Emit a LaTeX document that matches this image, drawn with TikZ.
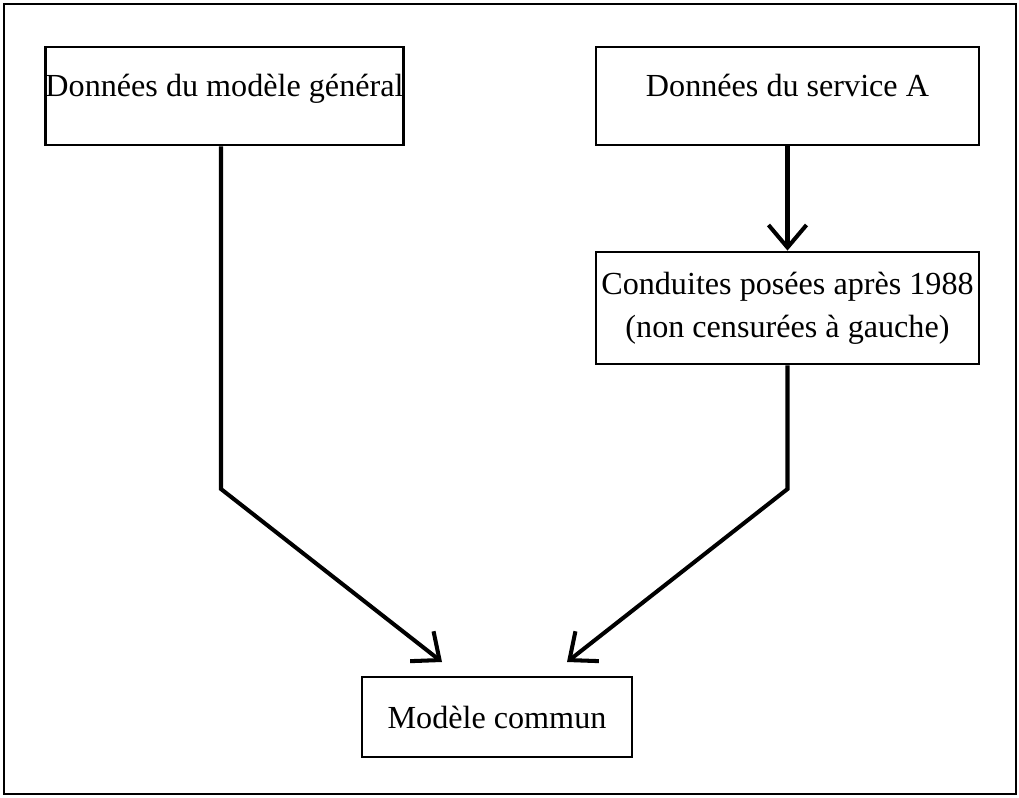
\documentclass[tikz,border=0pt]{standalone}
\usepackage{fontspec}
\setmainfont{Liberation Serif}
\usetikzlibrary{arrows.meta,calc,positioning}

\begin{document}
\begin{tikzpicture}[x=0.02cm,y=-0.02cm,
    box/.style={draw,line width=1.6pt,inner sep=0pt,align=center,font=\fontsize{18.3}{24.5}\selectfont},
    flow/.style={line width=2.3pt,-{Straight Barb[length=0.45cm,width=0.76cm]}}]
  \useasboundingbox (0,0) rectangle (1019,798);
  \draw[line width=1.6pt] (4,4) rectangle (1016,794);
  % sources
  \node[box,minimum width=7.14cm,minimum height=1.96cm,text height=0.3cm,text depth=0.3cm] (gen) at (224.5,96) {Données du modèle général};
  \node[box,minimum width=7.66cm,minimum height=1.96cm,text height=0.3cm,text depth=0.3cm] (serv) at (787.5,96) {Données du service A};
  \node[box,minimum width=7.66cm,minimum height=2.24cm] (cond) at (787.5,308) {Conduites posées après 1988\\(non censurées à gauche)};
  \node[box,minimum width=5.4cm,minimum height=1.6cm] (comm) at (497,717) {Modèle commun};
  % bends and arrow ends
  \coordinate (level) at (0,489);
  \coordinate (tipA) at (442,662);
  \coordinate (tipB) at (567,662);
  \draw[flow] (serv.south) -- (cond.north);
  \draw[flow] ([xshift=-0.07cm]gen.south) -- ([xshift=-0.07cm]gen.south |- level) -- (tipA);
  \draw[flow] (cond.south) -- (cond.south |- level) -- (tipB);
\end{tikzpicture}
\end{document}
